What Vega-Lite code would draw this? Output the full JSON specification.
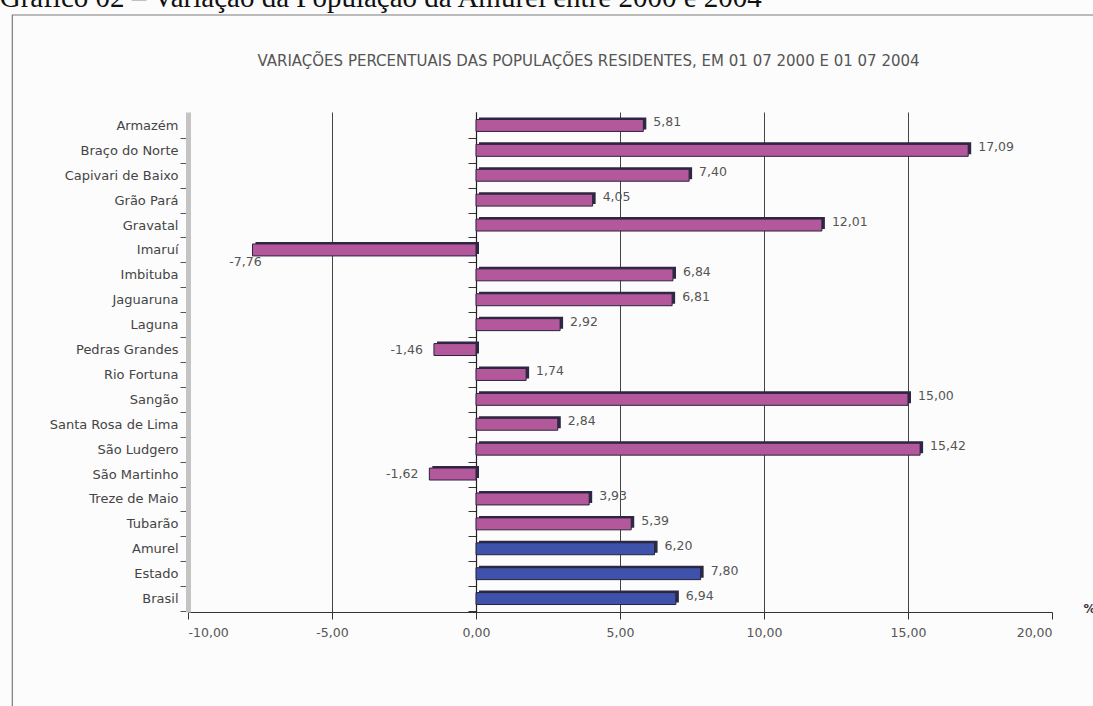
{
  "$schema": "https://vega.github.io/schema/vega-lite/v6.json",
  "width": 864,
  "height": 500,
  "autosize": {"type": "none"},
  "padding": {"left": 188, "top": 112, "right": 41, "bottom": 94},
  "background": "#fcfcfc",
  "title": {
    "text": "Gráfico 02 – Variação da População da Amurel entre 2000 e 2004",
    "anchor": "start",
    "frame": "bounds",
    "dx": -12,
    "offset": -22,
    "baseline": "alphabetic",
    "font": "Liberation Serif",
    "fontSize": 29,
    "fontWeight": "normal",
    "color": "#111111"
  },
  "config": {
    "locale": {
      "number": {"decimal": ",", "thousands": ".", "grouping": [3], "currency": ["R$ ", ""], "minus": "-"}
    },
    "view": {"stroke": null}
  },
  "datasets": {
    "variacao": [
      {"municipio": "Armazém", "variacao": 5.81, "tipo": "Município"},
      {"municipio": "Braço do Norte", "variacao": 17.09, "tipo": "Município"},
      {"municipio": "Capivari de Baixo", "variacao": 7.40, "tipo": "Município"},
      {"municipio": "Grão Pará", "variacao": 4.05, "tipo": "Município"},
      {"municipio": "Gravatal", "variacao": 12.01, "tipo": "Município"},
      {"municipio": "Imaruí", "variacao": -7.76, "tipo": "Município"},
      {"municipio": "Imbituba", "variacao": 6.84, "tipo": "Município"},
      {"municipio": "Jaguaruna", "variacao": 6.81, "tipo": "Município"},
      {"municipio": "Laguna", "variacao": 2.92, "tipo": "Município"},
      {"municipio": "Pedras Grandes", "variacao": -1.46, "tipo": "Município"},
      {"municipio": "Rio Fortuna", "variacao": 1.74, "tipo": "Município"},
      {"municipio": "Sangão", "variacao": 15.00, "tipo": "Município"},
      {"municipio": "Santa Rosa de Lima", "variacao": 2.84, "tipo": "Município"},
      {"municipio": "São Ludgero", "variacao": 15.42, "tipo": "Município"},
      {"municipio": "São Martinho", "variacao": -1.62, "tipo": "Município"},
      {"municipio": "Treze de Maio", "variacao": 3.93, "tipo": "Município"},
      {"municipio": "Tubarão", "variacao": 5.39, "tipo": "Município"},
      {"municipio": "Amurel", "variacao": 6.20, "tipo": "Agregado"},
      {"municipio": "Estado", "variacao": 7.80, "tipo": "Agregado"},
      {"municipio": "Brasil", "variacao": 6.94, "tipo": "Agregado"}
    ]
  },
  "data": {"name": "variacao"},
  "layer": [
    {
      "data": {"values": [{}]},
      "mark": {"type": "rect", "fill": null, "stroke": "#7a7a7a", "strokeWidth": 1.2},
      "encoding": {
        "x": {
          "datum": -16.1, "type": "quantitative", "title": "%",
          "scale": {"domain": [-10, 20], "nice": false, "zero": false}
        },
        "x2": {"datum": 23},
        "y": {"datum": 1.194, "type": "quantitative", "scale": {"domain": [0, 1], "nice": false, "zero": false}, "axis": null},
        "y2": {"datum": -0.3}
      }
    },
    {
      "mark": {"type": "bar", "opacity": 0},
      "encoding": {
        "x": {"field": "variacao", "type": "quantitative", "title": "%", "scale": {"domain": [-10, 20], "nice": false, "zero": false}},
        "y": {
          "field": "municipio", "type": "nominal", "sort": null,
          "scale": {"paddingInner": 0.52, "paddingOuter": 0.3},
          "axis": {
            "orient": "left",
            "offset": -288, "labels": false, "title": null,
            "tickSize": 8, "tickOffset": 12.45, "tickColor": "#333333",
            "domainColor": "#222222", "domainWidth": 1.2
          }
        }
      }
    },
    {
      "encoding": {
        "x": {
          "field": "variacao", "type": "quantitative", "title": "%",
          "scale": {"domain": [-10, 20], "nice": false, "zero": false},
          "axis": {
            "values": [-10, -5, 0, 5, 10, 15, 20],
            "format": ".2f",
            "labelFont": "DejaVu Sans", "labelFontSize": 12.5, "labelColor": "#555555",
            "labelPadding": 7, "tickSize": 7, "tickColor": "#333333",
            "domainColor": "#333333", "domainWidth": 1,
            "grid": true, "gridColor": "#444444", "gridWidth": 1,
            "gridOpacity": {"condition": {"test": "datum.value === -10 || datum.value === 20", "value": 0}, "value": 1},
            "titleX": 895, "titleY": -4, "titleAlign": "left", "titleBaseline": "middle",
            "titleFont": "DejaVu Sans", "titleFontSize": 12, "titleFontWeight": "bold", "titleColor": "#333333"
          }
        },
        "y": {
          "field": "municipio", "type": "nominal", "sort": null,
          "scale": {"paddingInner": 0.52, "paddingOuter": 0.3},
          "axis": {
            "orient": "left",
            "title": "VARIAÇÕES PERCENTUAIS DAS POPULAÇÕES RESIDENTES, EM  01 07 2000 E 01 07 2004",
            "titleFont": "DejaVu Sans", "titleFontSize": 15, "titleFontWeight": "normal", "titleColor": "#555555",
            "titleAngle": 0, "titleAlign": "center", "titleBaseline": "alphabetic",
            "titleX": 400, "titleY": -47,
            "labelFont": "DejaVu Sans", "labelFontSize": 13, "labelColor": "#444444", "labelPadding": 2,
            "tickSize": 8, "tickOffset": 12.45, "labelOffset": -12.45, "tickColor": "#555555",
            "domainColor": "#c4c4c4", "domainWidth": 5
          }
        }
      },
      "layer": [
        {
          "mark": {"type": "bar", "xOffset": 3, "yOffset": -2, "color": "#2e2842"}
        },
        {
          "mark": {"type": "bar", "stroke": "#2b2340", "strokeWidth": 1},
          "encoding": {
            "color": {
              "field": "tipo", "type": "nominal", "legend": null,
              "scale": {"domain": ["Município", "Agregado"], "range": ["#b3599b", "#3d52a8"]}
            }
          }
        },
        {
          "transform": [{"filter": "datum.variacao >= 0"}],
          "mark": {"type": "text", "align": "left", "baseline": "middle", "dx": 10, "dy": -3, "font": "DejaVu Sans", "fontSize": 12.5, "color": "#555555"},
          "encoding": {"text": {"field": "variacao", "type": "quantitative", "format": ".2f"}}
        },
        {
          "transform": [{"filter": "datum.variacao < 0 && datum.variacao > -5"}],
          "mark": {"type": "text", "align": "right", "baseline": "middle", "dx": -11, "dy": 0, "font": "DejaVu Sans", "fontSize": 12.5, "color": "#555555"},
          "encoding": {"text": {"field": "variacao", "type": "quantitative", "format": ".2f"}}
        },
        {
          "transform": [{"filter": "datum.variacao <= -5"}],
          "mark": {"type": "text", "align": "center", "baseline": "middle", "dx": -7, "dy": 12, "font": "DejaVu Sans", "fontSize": 12.5, "color": "#555555"},
          "encoding": {"text": {"field": "variacao", "type": "quantitative", "format": ".2f"}}
        }
      ]
    }
  ],
  "resolve": {"scale": {"y": "independent"}}
}
